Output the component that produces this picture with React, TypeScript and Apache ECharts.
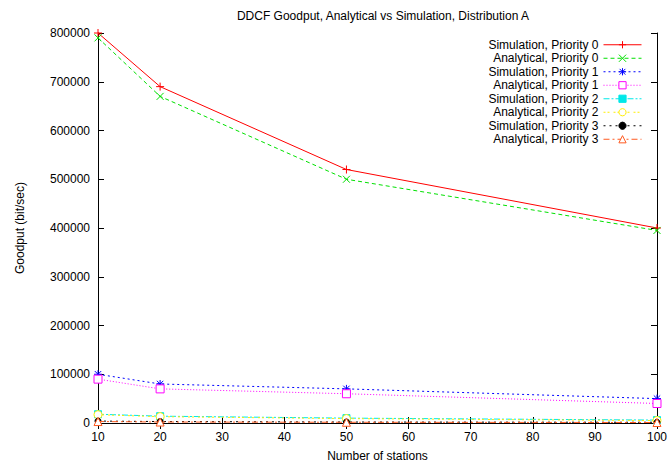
import React, { useEffect, useRef } from "react";
import * as echarts from "echarts";

const stations = [10, 20, 50, 100];
const simP0 = [800000, 690000, 520000, 400000];
const anaP0 = [790000, 670000, 500000, 395000];
const simP1 = [100000, 80000, 70000, 50000];
const anaP1 = [90000, 70000, 60000, 40000];
const simP2 = [18000, 14000, 10000, 6000];
const anaP2 = [17000, 13000, 9000, 5000];
const simP3 = [4000, 3000, 2000, 1500];
const anaP3 = [3000, 2000, 1500, 1000];

const seriesNames = [
  "Simulation, Priority 0",
  "Analytical, Priority 0",
  "Simulation, Priority 1",
  "Analytical, Priority 1",
  "Simulation, Priority 2",
  "Analytical, Priority 2",
  "Simulation, Priority 3",
  "Analytical, Priority 3",
];

const FONT = "Liberation Sans, Arial, sans-serif";

export default function App() {
  const ref = useRef<HTMLDivElement>(null);
  useEffect(() => {
    if (!ref.current) return;
    const chart = echarts.init(ref.current, undefined, { renderer: "svg" });
    const datasets = [simP0, anaP0, simP1, anaP1, simP2, anaP2, simP3, anaP3];
    const styles = [
      { color: "#ff0000", type: "solid", symbol: "path://M5,0L5,10M0,5L10,5", size: 8, fill: "#ff0000" },
      { color: "#00e000", type: [4, 3], symbol: "path://M0,0L10,10M10,0L0,10", size: 7, fill: "#00e000" },
      { color: "#0000ff", type: [2, 3], symbol: "path://M5,0L5,10M0,5L10,5M1,1L9,9M9,1L1,9", size: 8, fill: "#0000ff" },
      { color: "#ff00ff", type: [1, 2], symbol: "rect", size: 8, fill: "#ffffff" },
      { color: "#00e8e8", type: [6, 2, 2, 2], symbol: "rect", size: 7, fill: "#00e8e8" },
      { color: "#ffee00", type: [2, 2, 2, 4], symbol: "circle", size: 8, fill: "#ffffff" },
      { color: "#000000", type: [2, 4], symbol: "circle", size: 6, fill: "#000000" },
      { color: "#ff5a20", type: [6, 3, 2, 3], symbol: "triangle", size: 8, fill: "#ffffff" },
    ];
    const series = datasets.map((d, i) => ({
      name: seriesNames[i],
      type: "line",
      data: stations.map((s, j) => [s, d[j]]),
      symbol: styles[i].symbol,
      symbolSize: styles[i].size,
      showAllSymbol: true,
      lineStyle: { color: styles[i].color, width: 1, type: styles[i].type },
      itemStyle: {
        color: styles[i].fill,
        borderColor: styles[i].color,
        borderWidth: 1,
      },
      z: 2 + i,
    }));
    const legendData = seriesNames.map((n, i) => ({
      name: n,
      itemStyle: { color: styles[i].fill, borderColor: styles[i].color, borderWidth: 1 },
      lineStyle: { color: styles[i].color, width: 1, type: styles[i].type },
    }));
    const tickCommon = {
      axisLine: { show: true, lineStyle: { color: "#000", width: 1 } },
      axisTick: { show: true, inside: true, length: 6, lineStyle: { color: "#000" } },
      splitLine: { show: false },
    };
    chart.setOption({
      animation: false,
      title: {
        text: "DDCF Goodput, Analytical vs Simulation, Distribution A",
        left: 378,
        textAlign: "center",
        top: 5,
        textStyle: { fontFamily: FONT, fontSize: 12, fontWeight: "normal", color: "#000" },
      },
      legend: {
        orient: "vertical",
        align: "right",
        right: 28,
        top: 38,
        padding: 0,
        itemGap: 0,
        itemWidth: 38,
        itemHeight: 9,
        data: legendData,
        lineStyle: { width: 1 },
        textStyle: { fontFamily: FONT, fontSize: 12, color: "#000", lineHeight: 13.5 },
      },
      grid: { left: 98, right: 13, top: 33, bottom: 43 },
      xAxis: [
        {
          type: "value",
          min: 10,
          max: 100,
          interval: 10,
          name: "Number of stations",
          nameLocation: "middle",
          nameGap: 27,
          nameTextStyle: { fontFamily: FONT, fontSize: 12, color: "#000" },
          axisLabel: { fontFamily: FONT, fontSize: 12, color: "#000", margin: 8 },
          ...tickCommon,
        },
        {
          type: "value",
          position: "top",
          min: 10,
          max: 100,
          interval: 10,
          axisLabel: { show: false },
          ...tickCommon,
        },
      ],
      yAxis: [
        {
          type: "value",
          min: 0,
          max: 800000,
          interval: 100000,
          name: "Goodput (bit/sec)",
          nameLocation: "middle",
          nameGap: 72,
          nameTextStyle: { fontFamily: FONT, fontSize: 12, color: "#000" },
          axisLabel: {
            fontFamily: FONT,
            fontSize: 12,
            color: "#000",
            margin: 8,
            formatter: (v: number) => String(v),
          },
          ...tickCommon,
        },
        {
          type: "value",
          position: "right",
          min: 0,
          max: 800000,
          interval: 100000,
          axisLabel: { show: false },
          ...tickCommon,
        },
      ],
      series,
    });
    return () => chart.dispose();
  }, []);
  return (
    <div
      ref={ref}
      style={{ position: "fixed", left: 0, top: 0, width: 670, height: 467, background: "#fff" }}
    />
  );
}
